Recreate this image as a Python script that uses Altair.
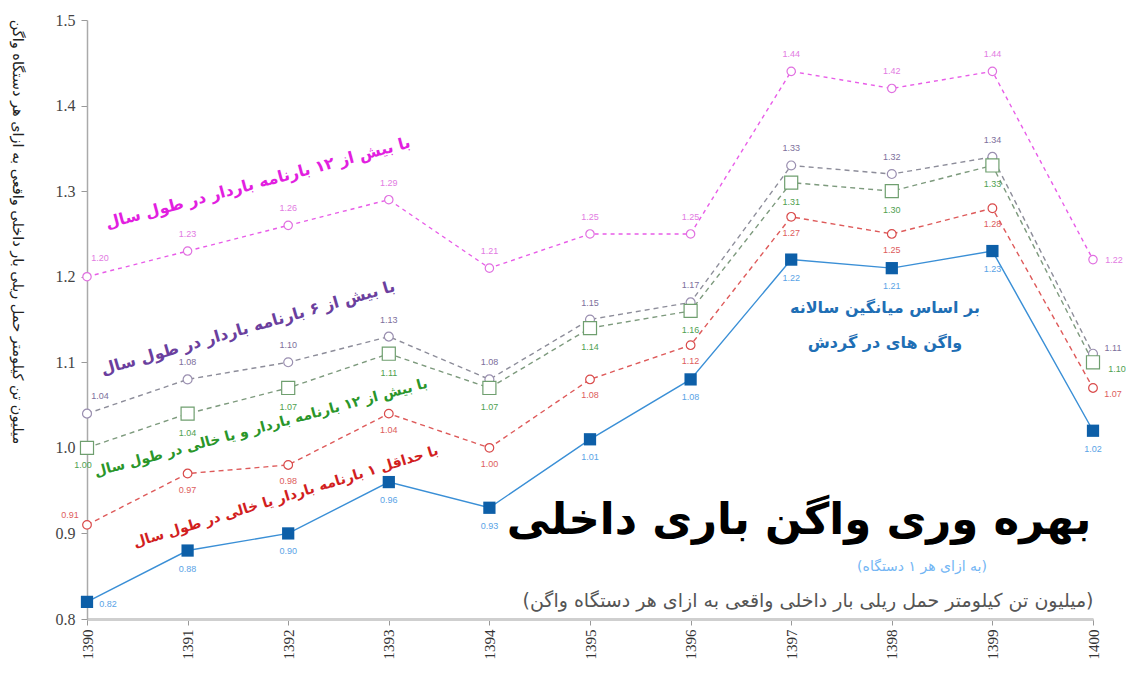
import altair as alt
import pandas as pd

# Years (Solar Hijri) on the x axis
years = [1390, 1391, 1392, 1393, 1394, 1395, 1396, 1397, 1398, 1399, 1400]

# Million tonne-km of domestic rail freight per wagon
avg_fleet = [0.82, 0.88, 0.90, 0.96, 0.93, 1.01, 1.08, 1.22, 1.21, 1.23, 1.02]
min_one_bill = [0.91, 0.97, 0.98, 1.04, 1.00, 1.08, 1.12, 1.27, 1.25, 1.28, 1.07]
over12_loaded_or_empty = [1.00, 1.04, 1.07, 1.11, 1.07, 1.14, 1.16, 1.31, 1.30, 1.33, 1.10]
over6_loaded = [1.04, 1.08, 1.10, 1.13, 1.08, 1.15, 1.17, 1.33, 1.32, 1.34, 1.11]
over12_loaded = [1.20, 1.23, 1.26, 1.29, 1.21, 1.25, 1.25, 1.44, 1.42, 1.44, 1.22]

y_ticks = [0.8, 0.9, 1.0, 1.1, 1.2, 1.3, 1.4, 1.5]

FA = "DejaVu Sans"
SERIF = "Liberation Serif"

x_enc = alt.X(
    "year:Q",
    scale=alt.Scale(domain=[1390, 1400], nice=False, zero=False),
    axis=alt.Axis(values=years, format="d", labelAngle=270, labelFont=SERIF,
                  labelFontSize=15, labelColor="#333", tickColor="#999",
                  tickSize=6, domainColor="#cfcfcf", domainWidth=3,
                  grid=False, title=None, labelPadding=4),
)
y_enc = alt.Y(
    "value:Q",
    scale=alt.Scale(domain=[0.8, 1.5], nice=False, zero=False),
    axis=alt.Axis(values=y_ticks, format=".1f", labelFont=SERIF,
                  labelFontSize=16, labelColor="#444", tickColor="#999",
                  tickSize=6, domainColor="#aaaaaa", domainWidth=1.5,
                  grid=False, title=None, labelPadding=6),
)


def series_frame(vals):
    return pd.DataFrame({"year": years, "value": vals})


# style per series: line colour, dash, marker shape/size/fill, label colour,
# label offsets (middle points, first point, last point)
styles = [
    dict(vals=over12_loaded, line="#e85ce8", dash=[4, 4], shape="circle", size=70,
         filled=False, mstroke="#e070e0", lab="#e27be2",
         mid=(0, -17), first=(13, -19), last=(21, 0)),
    dict(vals=over6_loaded, line="#8d8d9a", dash=[5, 4], shape="circle", size=80,
         filled=False, mstroke="#9a8fb0", lab="#7d6f9c",
         mid=(0, -17), first=(13, -18), last=(20, -6)),
    dict(vals=over12_loaded_or_empty, line="#7d9a7d", dash=[5, 4], shape="square", size=170,
         filled=False, mstroke="#6f9f6f", lab="#4f9f4f",
         mid=(0, 19), first=(-4, 17), last=(24, 7)),
    dict(vals=min_one_bill, line="#de5a5a", dash=[5, 4], shape="circle", size=75,
         filled=False, mstroke="#d94a4a", lab="#dd5c5c",
         mid=(0, 16), first=(-17, -10), last=(20, 6)),
    dict(vals=avg_fleet, line="#3a8fd6", dash=None, shape="square", size=150,
         filled=True, mstroke="#0d5fa8", lab="#5aa3e6",
         mid=(0, 18), first=(21, 2), last=(0, 18)),
]

layers = []
for s in styles:
    base = alt.Chart(series_frame(s["vals"]))
    line_kw = dict(color=s["line"], strokeWidth=1.4)
    if s["dash"]:
        line_kw["strokeDash"] = s["dash"]
    layers.append(base.mark_line(**line_kw).encode(x=x_enc, y=y_enc))
    if s["filled"]:
        pt = base.mark_point(shape=s["shape"], size=s["size"], filled=True,
                             color=s["mstroke"], opacity=1)
    else:
        pt = base.mark_point(shape=s["shape"], size=s["size"], filled=False,
                             color=s["mstroke"], strokeWidth=1.2, fill="white",
                             fillOpacity=1, opacity=1)
    layers.append(pt.encode(x=x_enc, y=y_enc))
    txt = alt.Text("value:Q", format=".2f")
    for key, flt in (("mid", "datum.year > 1390 && datum.year < 1400"),
                     ("first", "datum.year == 1390"),
                     ("last", "datum.year == 1400")):
        dx, dy = s[key]
        layers.append(
            base.transform_filter(flt)
            .mark_text(font="Liberation Sans", fontSize=9, color=s["lab"],
                       dx=dx, dy=dy)
            .encode(x=x_enc, y=y_enc, text=txt)
        )


def note(text, x, y, size, color, angle=0, weight="normal", rtl=False, align="center"):
    kw = dict(font=FA, fontSize=size, color=color, fontWeight=weight,
              align=align, baseline="middle")
    if angle:
        kw["angle"] = angle
    if rtl:
        kw["dir"] = "rtl"
    # x, y are page pixels; the plot area starts at (87, 20)
    return alt.Chart(pd.DataFrame({"t": [text]})).mark_text(**kw).encode(
        x=alt.value(x - 87), y=alt.value(y - 20), text="t:N")


annotations = [
    note("با بیش از ۱۲ بارنامه باردار در طول سال", 258, 183, 16, "#e21fe0", angle=345, weight="bold"),
    note("با بیش از ۶ بارنامه باردار در طول سال", 248, 328, 16, "#6b3f9e", angle=344, weight="bold"),
    note("با بیش از ۱۲ بارنامه باردار و یا خالی در طول سال", 261, 428, 14, "#2a962a", angle=345, weight="bold"),
    note("با حداقل ۱ بارنامه باردار یا خالی در طول سال", 286, 497, 14, "#d21f1f", angle=343, weight="bold"),
    note("بر اساس میانگین سالانه", 885, 308, 16, "#1f6fb5", weight="bold"),
    note("واگن های در گردش", 885, 343, 16, "#1f6fb5", weight="bold"),
    note("بهره وری واگن باری داخلی", 799, 521, 43.5, "#000000", weight="bold"),
    note("(به ازای هر ۱ دستگاه)", 922, 567, 14, "#74b6f4", rtl=True),
    note("(میلیون تن کیلومتر حمل ریلی بار داخلی واقعی به ازای هر دستگاه واگن)", 808, 601, 19, "#555555", rtl=True),
    note("میلیون تن کیلومتر حمل ریلی بار داخلی واقعی به ازای هر دستگاه واگن", 17, 232, 14.5, "#222222", angle=90),
]

chart = alt.layer(*layers, *annotations).properties(
    width=1006,
    height=599,
    autosize=alt.AutoSizeParams(type="none"),
    padding={"left": 87, "top": 20, "right": 37, "bottom": 67},
    background="white",
).configure_view(stroke=None)

chart.save("out.html", embed_options={"renderer": "svg", "actions": False})
